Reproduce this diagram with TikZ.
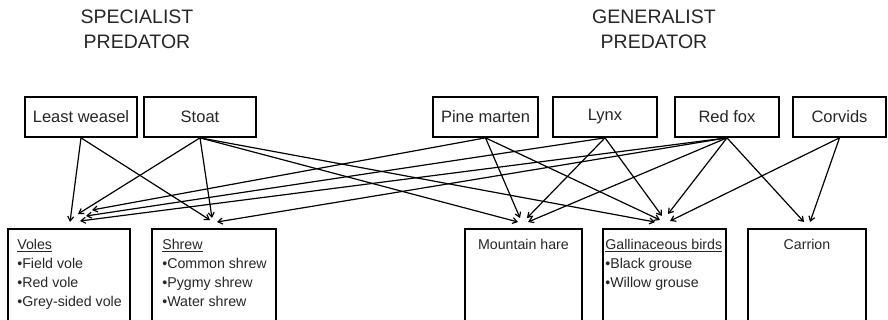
\documentclass[tikz,border=0pt]{standalone}
\usepackage{fontspec}
\setmainfont{Liberation Sans}
\usetikzlibrary{arrows.meta}
\begin{document}
\begin{tikzpicture}[x=1pt,y=-1pt,
  topbox/.style={draw=black, line width=1.7pt, minimum height=40pt, inner sep=0pt, font=\fontsize{16.5}{19}\selectfont, text=black!85},
  botbox/.style={draw=black, line width=1.7pt, minimum height=102pt, anchor=north, inner sep=0pt},
  bottext/.style={font=\fontsize{14.2}{19}\selectfont, text=black!85, inner sep=0pt, align=left},
  title/.style={font=\fontsize{19.5}{25}\selectfont, align=center, text=black!85, inner sep=0pt},
  link/.style={line width=1.2pt, -{Straight Barb[length=4.5pt,width=6pt]}}]
\clip (0,0) rectangle (888,320);

% titles
\node[title] (spec) at (137,29.5) {SPECIALIST\\PREDATOR};
\node[title] (gen) at (654,29.5) {GENERALIST\\PREDATOR};

% predators
\node[topbox, minimum width=112pt] (lw) at (81,117) {Least weasel};
\node[topbox, minimum width=112pt] (stoat) at (200,117) {Stoat};
\node[topbox, minimum width=105pt] (pm) at (485.5,117) {Pine marten};
\node[topbox, minimum width=104pt] (lynx) at (605,117) {Lynx};
\node[topbox, minimum width=104pt] (rf) at (727,117) {Red fox};
\node[topbox, minimum width=93pt] (corv) at (839.5,117) {Corvids};

% prey boxes
\node[botbox, minimum width=122pt] (voles) at (69,228) {};
\node[botbox, minimum width=124pt] (shrew) at (214,228) {};
\node[botbox, minimum width=117pt] (mh) at (523.5,228) {};
\node[botbox, minimum width=123pt] (gall) at (664.5,228) {};
\node[botbox, minimum width=118pt] (carr) at (807,228) {};

% prey texts
\node[bottext, anchor=north west] (volest) at ([xshift=10pt,yshift=-11pt]voles.north west)
  {\underline{Voles}\\•Field vole\\•Red vole\\•Grey-sided vole};
\node[bottext, anchor=north west] (shrewt) at ([xshift=11pt,yshift=-11pt]shrew.north west)
  {\underline{Shrew}\\•Common shrew\\•Pygmy shrew\\•Water shrew};
\node[bottext, anchor=north] (mht) at ([yshift=-11pt]mh.north) {Mountain hare};
\node[bottext, anchor=north west] (gallt) at ([xshift=3pt,yshift=-11pt]gall.north west)
  {\underline{Gallinaceous birds}\\•Black grouse\\•Willow grouse};
\node[bottext, anchor=north] (carrt) at ([yshift=-11pt]carr.north) {Carrion};

% links to voles
\draw[link] (lw.south) -- ([xshift=1pt,yshift=6pt]voles.north);
\draw[link] (stoat.south) -- ([xshift=9pt,yshift=14pt]voles.north);
\draw[link] (pm.south) -- ([xshift=23pt,yshift=18pt]voles.north);
\draw[link] (lynx.south) -- ([xshift=17pt,yshift=12pt]voles.north);
\draw[link] (rf.south) -- ([xshift=11pt,yshift=7pt]voles.north);
% links to shrew
\draw[link] (lw.south) -- ([xshift=-4pt,yshift=8pt]shrew.north);
\draw[link] (stoat.south) -- ([xshift=-2pt,yshift=10pt]shrew.north);
\draw[link] (rf.south) -- ([xshift=3pt,yshift=6pt]shrew.north);
% links to mountain hare
\draw[link] (stoat.south) -- ([xshift=-5.5pt,yshift=6pt]mh.north);
\draw[link] (pm.south) -- ([xshift=-3.5pt,yshift=10pt]mh.north);
\draw[link] (lynx.south) -- ([xshift=3.5pt,yshift=10pt]mh.north);
\draw[link] (rf.south) -- ([xshift=4.5pt,yshift=6pt]mh.north);
% links to gallinaceous birds
\draw[link] (stoat.south) -- ([xshift=-9.5pt,yshift=6pt]gall.north);
\draw[link] (pm.south) -- ([xshift=-4.5pt,yshift=8pt]gall.north);
\draw[link] (lynx.south) -- ([xshift=-2.5pt,yshift=12pt]gall.north);
\draw[link] (rf.south) -- ([xshift=3.5pt,yshift=14pt]gall.north);
\draw[link] (corv.south) -- ([xshift=5.5pt,yshift=7pt]gall.north);
% links to carrion
\draw[link] (rf.south) -- ([xshift=-3pt,yshift=6pt]carr.north);
\draw[link] (corv.south) -- ([xshift=3pt,yshift=6pt]carr.north);
\end{tikzpicture}
\end{document}
